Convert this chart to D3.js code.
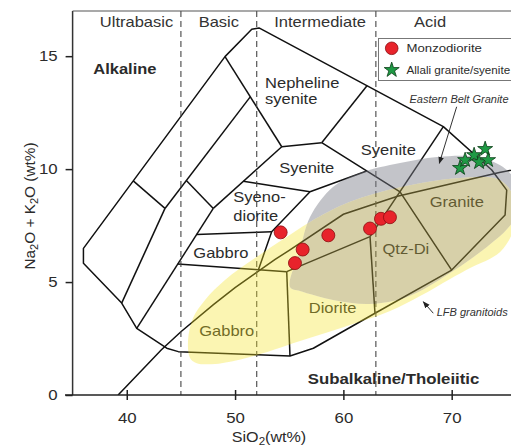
<!DOCTYPE html>
<html><head><meta charset="utf-8">
<script src="https://cdn.jsdelivr.net/npm/d3@7"></script>
<style>body{margin:0;background:#fff}svg{display:block}</style>
</head><body><svg id="chart" width="511" height="448"></svg>
<script>
// Total alkali vs silica grid for plutonic rocks (Cox et al. 1979, after Wilson 1989)
const outerBoundary = [[36.0,5.83],[36.0,6.49],[49.07,14.98],[51.54,16.19],[52.21,16.25],[69.23,11.88],[73.7,9.96],[75.08,9.07],[74.93,7.97],[70.0,5.53],[62.92,3.62],[57.23,2.07],[55.07,1.73],[44.76,1.92],[43.69,2.07],[40.92,2.95],[39.53,4.07]];
const fieldLines = [
  [[40.6,9.48],[43.53,8.26]],
  [[43.53,8.26],[39.53,4.07]],
  [[43.53,8.26],[51.4,13.2]],
  [[49.07,14.98],[54.31,10.99]],
  [[54.31,10.99],[58.0,11.17]],
  [[58.0,11.17],[62.2,13.7]],
  [[58.0,11.17],[65.23,8.99],[70.0,5.53]],
  [[45.5,9.5],[47.99,8.26]],
  [[40.92,2.95],[47.99,8.26]],
  [[47.99,8.26],[54.31,10.99]],
  [[46.45,7.1],[53.38,7.23]],
  [[50.76,9.46],[56.92,9.0]],
  [[52.15,5.53],[53.38,7.23],[56.92,9.0],[62.16,9.92]],
  [[44.71,5.8],[54.77,5.46]],
  [[54.77,5.46],[55.07,1.73]],
  [[54.77,5.46],[62.46,7.01]],
  [[62.46,7.01],[62.92,3.62]],
  [[62.46,7.01],[69.23,11.88]]
];
// Alkaline / subalkaline divide (Irvine & Baragar 1971)
const alkalineDivide = [[39.2,0],[40,0.4],[43.2,2],[45,2.8],[48,4],[50,4.75],[53.7,6],[55,6.4],[60,8],[65,8.8],[74.4,9.85],[78,10.2]];

const silicaDivisions = [45, 52, 63];
const silicaClasses = ["Ultrabasic", "Basic", "Intermediate", "Acid"];
const silicaClassCentres = [40.9, 48.5, 57.85, 68.0];

const xTicks = [40, 50, 60, 70];
const yTicks = [0, 5, 10, 15];

// Reference fields of other granitoid suites
const eastBeltGranite = [[55.07,4.78],[56.0,6.42],[56.92,7.88],[59.04,9.21],[61.53,9.83],[65.23,10.27],[68.65,10.54],[72.34,10.54],[74.74,10.09],[76.13,9.3],[76.31,8.28],[75.2,7.39],[73.36,6.6],[69.85,5.4],[65.88,4.34],[62.46,4.03],[59.04,4.21],[56.0,4.6]];
const lfbGranitoids = [[45.84,1.64],[45.66,2.43],[46.12,3.41],[47.23,4.21],[49.07,5.09],[51.84,6.06],[54.61,6.95],[56.92,7.66],[60.61,8.55],[65.23,9.2],[70.77,9.61],[74.46,9.52],[75.84,8.63],[75.76,7.39],[74.47,6.33],[71.7,5.62],[69.85,5.14],[67.08,4.38],[64.31,3.72],[60.61,3.1],[56.0,2.39],[51.38,1.68],[48.15,1.37],[46.4,1.42]];

// Samples
const monzoSiO2 = [54.21, 58.61, 56.24, 55.53, 62.46, 63.47, 64.3];
const monzoAlk  = [7.20, 7.07, 6.44, 5.84, 7.37, 7.80, 7.87];
const allaliSiO2 = [70.77, 71.24, 72.07, 73.09, 72.53, 73.36];
const allaliAlk  = [10.05, 10.4, 10.62, 10.89, 10.31, 10.4];

// Field names: [text, SiO2, alkali, anchor]
const fieldNames = [
  ["Nepheline", 52.77, 13.61, "start"],
  ["syenite", 52.77, 12.88, "start"],
  ["Syenite", 56.62, 9.81, "middle"],
  ["Syenite", 64.15, 10.62, "middle"],
  ["Syeno-", 49.84, 8.54, "start"],
  ["diorite", 49.84, 7.72, "start"],
  ["Gabbro", 48.69, 6.06, "middle"],
  ["Gabbro", 49.23, 2.59, "middle"],
  ["Diorite", 59.0, 3.63, "middle"],
  ["Qtz-Di", 65.77, 6.26, "middle"],
  ["Granite", 70.47, 8.34, "middle"]
];

const W = 511, H = 448;
const x = d3.scaleLinear().domain([35, 80]).range([72.6, 560]);
const y = d3.scaleLinear().domain([0, 17]).range([395, 11]);
const svg = d3.select("#chart");
const FONT = "'Liberation Sans', Arial, Helvetica, sans-serif";
const SX = 1.18;

function label(g, px, py, str, o = {}) {
  const t = g.append("text")
    .attr("transform", `translate(${px},${py}) ${o.rotate ? "rotate(" + o.rotate + ")" : ""} scale(${o.sx || SX},1)`)
    .attr("font-family", FONT)
    .attr("font-size", o.size || 14)
    .attr("font-weight", o.weight || "normal")
    .attr("font-style", o.italic ? "italic" : "normal")
    .attr("fill", o.fill || "#2b2b2b")
    .attr("text-anchor", o.anchor || "start");
  if (Array.isArray(str)) {
    str.forEach(([s, sub]) => {
      const ts = t.append("tspan").text(s);
      if (sub) ts.attr("font-size", (o.size || 14) * 0.72).attr("dy", 3);
      else ts.attr("dy", sub === false ? -3 : 0);
    });
  } else t.text(str);
  return t;
}

const line = d3.line().x(d => x(d[0])).y(d => y(d[1]));
const blob = d3.line().x(d => x(d[0])).y(d => y(d[1])).curve(d3.curveCatmullRomClosed.alpha(0.5));

const defs = svg.append("defs");
defs.append("clipPath").attr("id", "plot")
  .append("rect").attr("x", 72.6).attr("y", 11).attr("width", W - 72.6).attr("height", 384);
defs.append("clipPath").attr("id", "inEast").append("path").attr("d", blob(eastBeltGranite));
const mNotEast = defs.append("mask").attr("id", "notEast");
mNotEast.append("rect").attr("width", W).attr("height", H).attr("fill", "#fff");
mNotEast.append("path").attr("d", blob(eastBeltGranite)).attr("fill", "#000");
const mNotLfb = defs.append("mask").attr("id", "notLfb");
mNotLfb.append("rect").attr("width", W).attr("height", H).attr("fill", "#fff");
mNotLfb.append("path").attr("d", blob(lfbGranitoids)).attr("fill", "#000");
defs.append("marker").attr("id", "arr").attr("viewBox", "0 0 10 10").attr("refX", 9).attr("refY", 5)
  .attr("markerWidth", 7).attr("markerHeight", 7).attr("orient", "auto-start-reverse")
  .append("path").attr("d", "M0,1 L10,5 L0,9 z").attr("fill", "#222");

const plot = svg.append("g").attr("clip-path", "url(#plot)");

// classification grid
plot.append("path").datum(outerBoundary).attr("d", d => line(d) + "Z")
  .attr("fill", "none").attr("stroke", "#111").attr("stroke-width", 1.5).attr("stroke-linejoin", "round");
plot.selectAll(".field").data(fieldLines).join("path")
  .attr("d", line).attr("fill", "none").attr("stroke", "#111").attr("stroke-width", 1.5).attr("stroke-linejoin", "round");
plot.append("path").datum(alkalineDivide).attr("d", line)
  .attr("fill", "none").attr("stroke", "#111").attr("stroke-width", 1.5);

fieldNames.forEach(([t, sx, al, anc]) => label(plot, x(sx), y(al), t, { anchor: anc }));
label(plot, x(36.91), y(14.21), "Alkaline", { weight: "bold", size: 15, sx: 1.1 });
label(plot, x(56.71), y(0.49), "Subalkaline/Tholeiitic", { weight: "bold", size: 15, sx: 1.12 });

// silica divisions
plot.selectAll(".div").data(silicaDivisions).join("line")
  .attr("x1", d => x(d)).attr("x2", d => x(d)).attr("y1", y(17)).attr("y2", y(0))
  .attr("stroke", "#444").attr("stroke-width", 1.1).attr("stroke-dasharray", "6,4");
silicaClasses.forEach((c, i) => label(plot, x(silicaClassCentres[i]), y(16.3), c, { anchor: "middle", fill: "#333" }));

// reference fields: LFB only, Eastern Belt only, and their overlap
plot.append("path").attr("d", blob(lfbGranitoids)).attr("mask", "url(#notEast)")
  .attr("fill", "rgb(244,226,35)").attr("fill-opacity", 0.35);
plot.append("path").attr("d", blob(eastBeltGranite)).attr("mask", "url(#notLfb)")
  .attr("fill", "rgb(122,124,136)").attr("fill-opacity", 0.45);
plot.append("path").attr("d", blob(lfbGranitoids)).attr("clip-path", "url(#inEast)")
  .attr("fill", "rgb(166,150,64)").attr("fill-opacity", 0.45);

// annotations
plot.append("line").attr("x1", x(70.46)).attr("y1", y(12.76)).attr("x2", x(68.86)).attr("y2", y(10.26))
  .attr("stroke", "#333").attr("stroke-width", 1).attr("marker-end", "url(#arr)");
label(plot, x(66.1), y(12.94), "Eastern Belt Granite", { italic: true, size: 11, sx: 1.0, fill: "#333" });
plot.append("line").attr("x1", x(68.3)).attr("y1", y(3.62)).attr("x2", x(67.38)).attr("y2", y(4.13))
  .attr("stroke", "#333").attr("stroke-width", 1).attr("marker-end", "url(#arr)");
label(plot, x(68.62), y(3.5), "LFB granitoids", { italic: true, size: 11, sx: 1.0, fill: "#333" });

// samples
plot.selectAll(".monzo").data(monzoSiO2).join("circle")
  .attr("cx", d => x(d)).attr("cy", (d, i) => y(monzoAlk[i])).attr("r", 6.5)
  .attr("fill", "#e8232b").attr("stroke", "#8a0d10").attr("stroke-width", 0.8);
const star = d3.symbol(d3.symbolStar).size(70);
plot.selectAll(".allali").data(allaliSiO2).join("path")
  .attr("d", star).attr("transform", (d, i) => `translate(${x(d)},${y(allaliAlk[i])})`)
  .attr("fill", "#1f9a45").attr("stroke", "#0b3d17").attr("stroke-width", 0.8);

// frame and axes
svg.append("line").attr("x1", x(35)).attr("x2", x(35)).attr("y1", y(17)).attr("y2", y(0)).attr("stroke", "#333").attr("stroke-width", 1.5);
svg.append("line").attr("x1", x(35)).attr("x2", W).attr("y1", y(17)).attr("y2", y(17)).attr("stroke", "#555").attr("stroke-width", 1.2);
svg.append("line").attr("x1", 65).attr("x2", W).attr("y1", y(0)).attr("y2", y(0)).attr("stroke", "#222").attr("stroke-width", 1.6);

const yAxis = svg.append("g").attr("transform", `translate(${x(35)},0)`)
  .call(d3.axisLeft(y).tickValues(yTicks).tickSize(7).tickPadding(8));
yAxis.select(".domain").remove();
yAxis.selectAll(".tick line").attr("stroke", "#222").attr("stroke-width", 1.5);
yAxis.selectAll(".tick text").each(function () {
  d3.select(this).attr("transform", `translate(-15,0) scale(1.2,1)`).attr("x", 0).attr("dy", "0.34em")
    .attr("font-family", FONT).attr("font-size", 14).attr("fill", "#2b2b2b");
});

const xAxis = svg.append("g").attr("transform", `translate(0,${y(0)})`)
  .call(d3.axisBottom(x).tickValues(xTicks).tickSize(5).tickPadding(13));
xAxis.select(".domain").remove();
xAxis.selectAll(".tick line").attr("y1", -5).attr("y2", 5).attr("stroke", "#222").attr("stroke-width", 1.5);
xAxis.selectAll(".tick text").each(function () {
  d3.select(this).attr("transform", `translate(0,18) scale(1.2,1)`).attr("y", 0).attr("dy", "0.71em")
    .attr("font-family", FONT).attr("font-size", 14).attr("fill", "#2b2b2b");
});

label(svg, 269, 442, [["SiO"], ["2", true], ["(wt%)", false]], { anchor: "middle", sx: 1.15 });
label(svg, 35, 206, [["Na"], ["2", true], ["O + K", false], ["2", true], ["O (wt%)", false]], { anchor: "middle", rotate: -90, sx: 1.06, size: 14.5 });

// legend
const lg = svg.append("g");
lg.append("rect").attr("x", 378.5).attr("y", 38.5).attr("width", 140).attr("height", 42)
  .attr("fill", "#fff").attr("stroke", "#777").attr("stroke-width", 1);
lg.append("circle").attr("cx", 391.7).attr("cy", 48.3).attr("r", 6.3)
  .attr("fill", "#e8232b").attr("stroke", "#8a0d10").attr("stroke-width", 0.8);
lg.append("path").attr("d", star).attr("transform", "translate(391.7,70)")
  .attr("fill", "#1f9a45").attr("stroke", "#0b3d17").attr("stroke-width", 0.8);
label(lg, 406.5, 52, "Monzodiorite", { size: 11, sx: 1.2 });
label(lg, 406.5, 74, "Allali granite/syenite", { size: 11, sx: 1.06 });
</script></body></html>
